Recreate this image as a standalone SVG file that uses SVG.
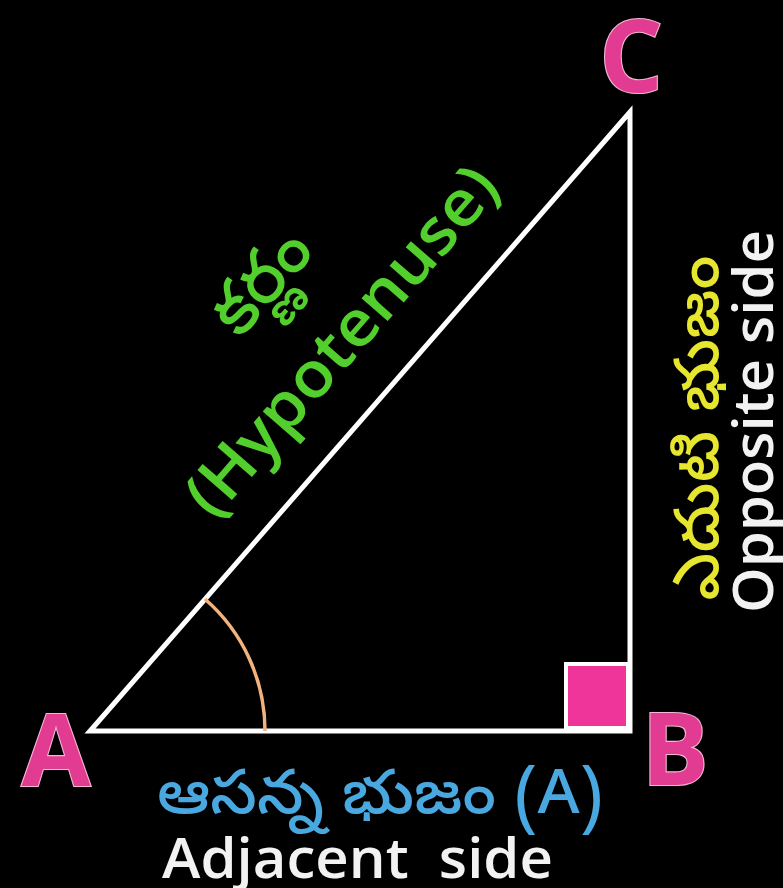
<svg xmlns="http://www.w3.org/2000/svg" width="783" height="888" viewBox="0 0 783 888">
  <style>
    .side { fill: none; stroke: #ffffff; stroke-width: 5; stroke-linejoin: miter; }
    .vtx { font-family: "Open Sans", "Liberation Sans", sans-serif; font-weight: 700; font-size: 100px; fill: #e23c92; stroke: #f7b6d8; stroke-width: 2.2; paint-order: stroke; text-anchor: middle; }
    .lat { font-family: "Open Sans", "Liberation Sans", sans-serif; font-weight: 600; }
    .tel { font-family: "Noto Sans Telugu", "Noto Sans", "Open Sans", sans-serif; font-weight: 500; }
  </style>
  <rect x="0" y="0" width="783" height="888" fill="#000000"/>

  <g id="triangle">
    <polygon class="side" points="90,731 630,731 630,112"/>
    <path id="angle-arc" d="M265,731 A175,175 0 0 0 204.9,599" fill="none" stroke="#f2b27e" stroke-width="3.5"/>
    <rect id="right-angle" x="566" y="664" width="62" height="64" fill="#f0359a" stroke="#ffffff" stroke-width="4"/>
  </g>

  <g id="vertex-A"><text class="vtx" x="56" y="786">A</text></g>
  <g id="vertex-B"><text class="vtx" x="675" y="785">B</text></g>
  <g id="vertex-C"><text class="vtx" x="631" y="92">C</text></g>

  <g id="hypotenuse-label" fill="#52cf2c">
    <text class="tel" font-size="70" text-anchor="middle" transform="translate(278,296) rotate(-49)">కర్ణం</text>
    <text class="lat" font-size="64" text-anchor="middle" textLength="440" lengthAdjust="spacingAndGlyphs" transform="translate(358,355) rotate(-49)">(Hypotenuse)</text>
  </g>

  <g id="opposite-label">
    <text class="tel" font-size="62" fill="#e6e62e" text-anchor="middle" textLength="345" lengthAdjust="spacingAndGlyphs" transform="translate(718,428) rotate(-90)">ఎదుటి భుజం</text>
    <text class="lat" font-size="56" fill="#f2f2f2" textLength="383" lengthAdjust="spacingAndGlyphs" transform="translate(773,613) rotate(-90)">Opposite side</text>
  </g>

  <g id="adjacent-label">
    <text class="tel" font-size="62" fill="#4aa8e0" x="157" y="813" textLength="446" lengthAdjust="spacingAndGlyphs">ఆసన్న భుజం (A)</text>
    <text class="lat" font-size="56" fill="#f2f2f2" x="162" y="878" textLength="391" lengthAdjust="spacingAndGlyphs">Adjacent&#160; side</text>
  </g>
</svg>
